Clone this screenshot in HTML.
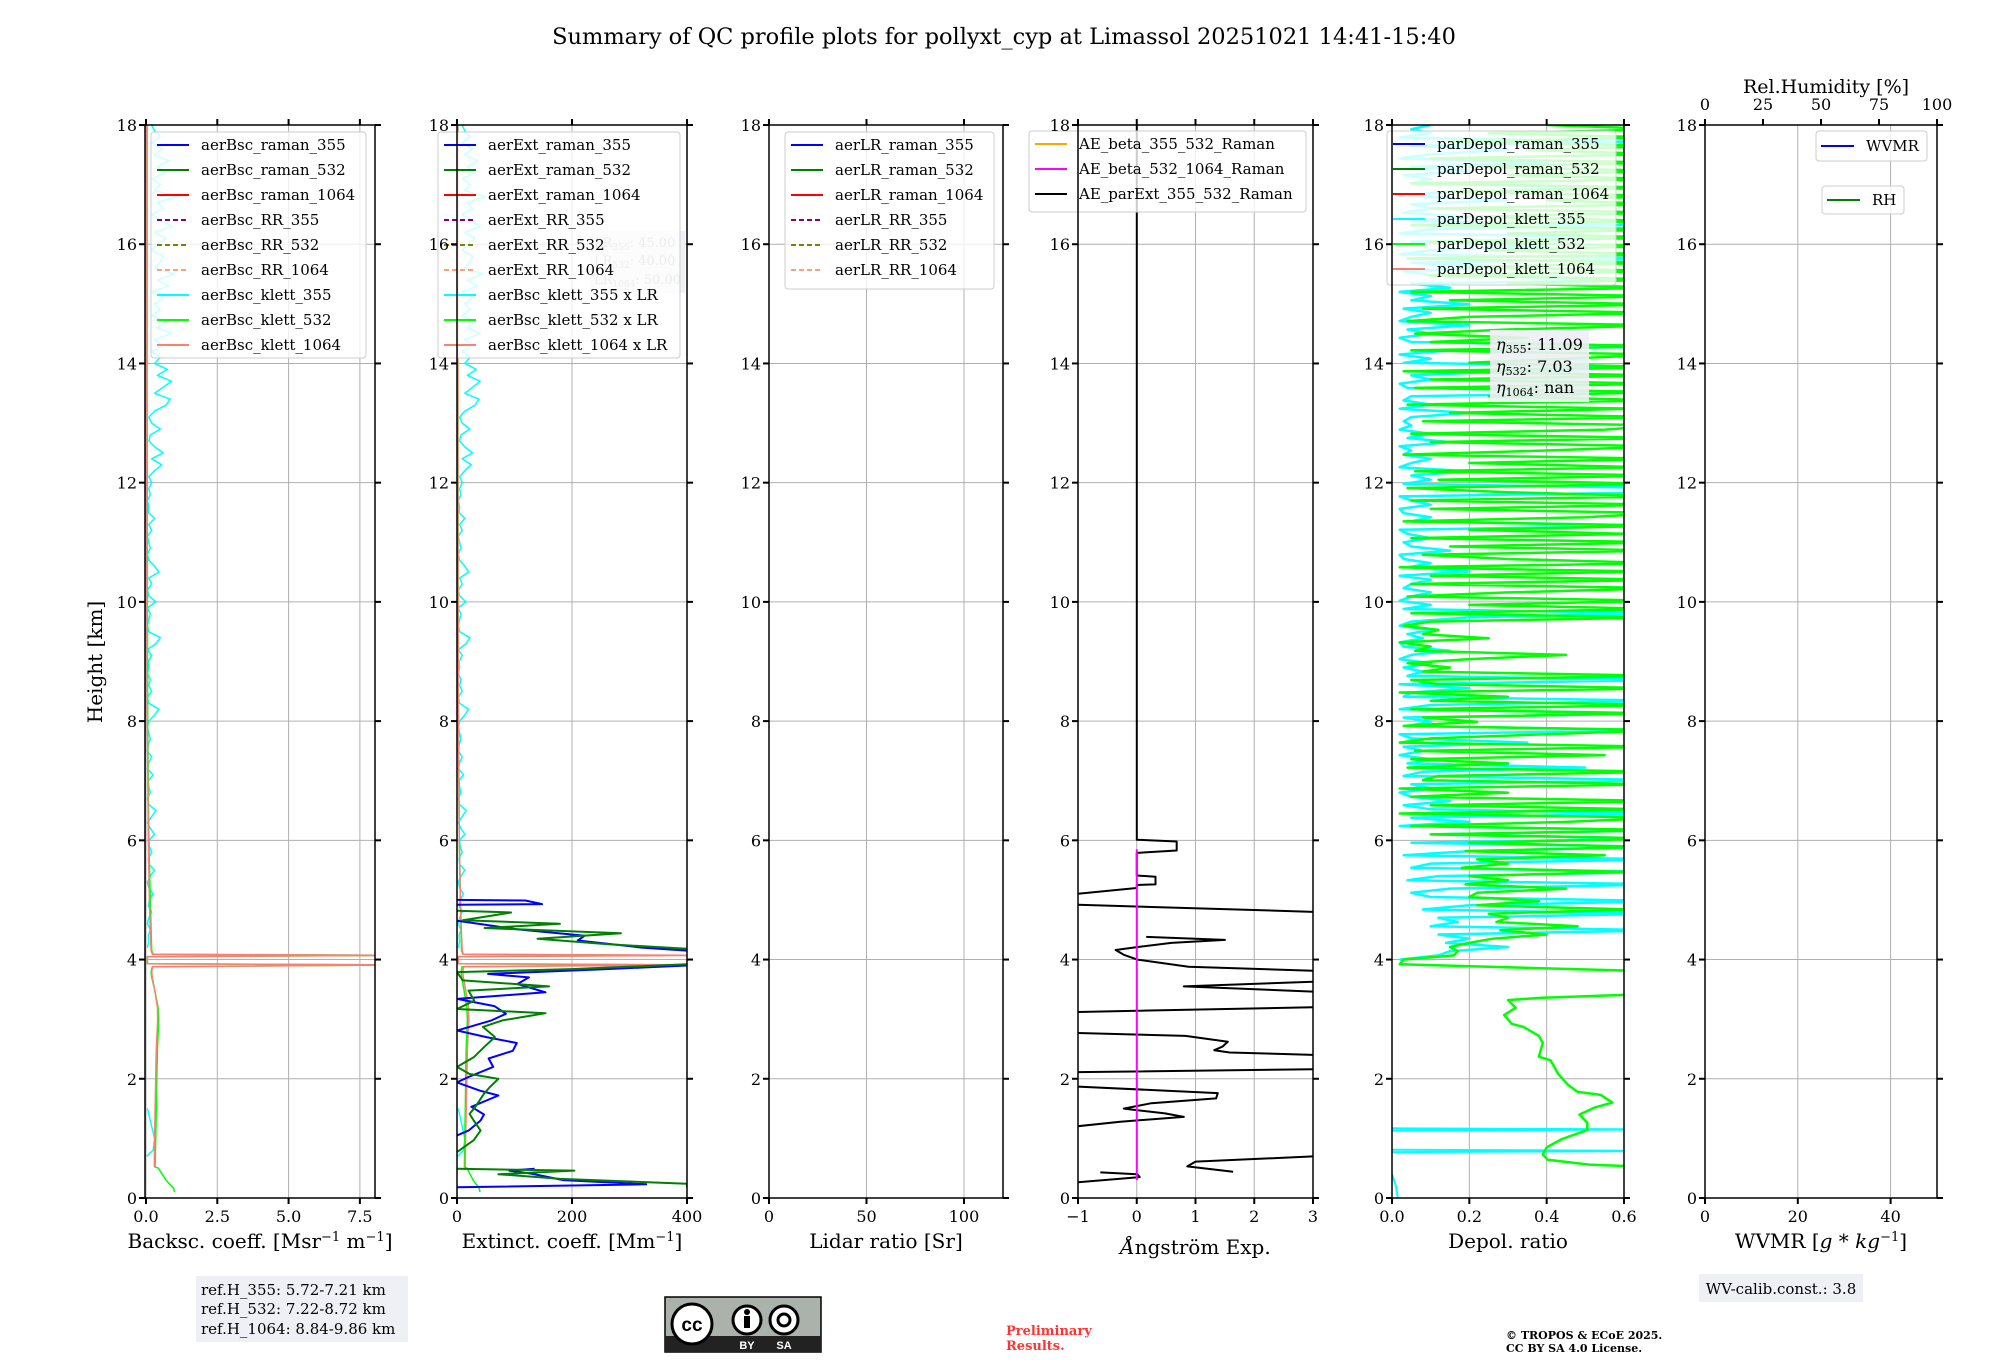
<!DOCTYPE html>
<html><head><meta charset="utf-8"><style>
html,body{margin:0;padding:0;background:#fff;}
svg{display:block;font-family:"DejaVu Serif","Liberation Serif",serif;}
</style></head><body>
<svg id="fig" width="2000" height="1360" viewBox="0 0 2000 1360" xmlns="http://www.w3.org/2000/svg">
<text x="1004" y="44" font-size="22.5" text-anchor="middle">Summary of QC profile plots for pollyxt_cyp at Limassol 20251021 14:41-15:40</text>
<text transform="translate(102,662) rotate(-90)" font-size="20" text-anchor="middle">Height [km]</text>
<g id="plots"></g>
<g>
<rect x="196" y="1276" width="212" height="66" fill="#eef0f5"/>
<text x="201" y="1295" font-size="15">ref.H_355: 5.72-7.21 km</text>
<text x="201" y="1314" font-size="15">ref.H_532: 7.22-8.72 km</text>
<text x="201" y="1334" font-size="15">ref.H_1064: 8.84-9.86 km</text>
</g>
<g>
<rect x="665" y="1297" width="156" height="55" fill="#aab2ab" stroke="#000" stroke-width="1.5"/>
<rect x="665" y="1336" width="156" height="16" fill="#222"/>
<circle cx="692" cy="1324" r="20" fill="#fff" stroke="#000" stroke-width="3"/>
<text x="692" y="1331" font-size="19" font-weight="bold" text-anchor="middle" font-family="Liberation Sans,sans-serif">cc</text>
<circle cx="747" cy="1320" r="14" fill="#fff" stroke="#000" stroke-width="3"/>
<rect x="744" y="1316" width="6" height="12" fill="#000"/><circle cx="747" cy="1312" r="3" fill="#000"/>
<circle cx="784" cy="1320" r="14" fill="#fff" stroke="#000" stroke-width="3"/>
<circle cx="784" cy="1320" r="6" fill="none" stroke="#000" stroke-width="3"/>
<text x="747" y="1349" font-size="11" fill="#fff" font-weight="bold" text-anchor="middle" font-family="Liberation Sans,sans-serif">BY</text>
<text x="784" y="1349" font-size="11" fill="#fff" font-weight="bold" text-anchor="middle" font-family="Liberation Sans,sans-serif">SA</text>
</g>
<text x="1006" y="1335" font-size="13" fill="#ff3333" font-weight="bold">Preliminary</text>
<text x="1006" y="1350" font-size="13" fill="#ff3333" font-weight="bold">Results.</text>
<text x="1506" y="1339" font-size="11" font-weight="bold">© TROPOS &amp; ECoE 2025.</text>
<text x="1506" y="1352" font-size="11" font-weight="bold">CC BY SA 4.0 License.</text>
<g>
<rect x="1699" y="1274" width="164" height="28" fill="#eef0f5"/>
<text x="1781" y="1294" font-size="15" text-anchor="middle">WV-calib.const.: 3.8</text>
</g>
</svg>
<script>
// ---------- data ----------
const hStartBsc = 4.2, hStepBsc = 0.1;
const bscKlett355 = [0.05,0.1,0.08,0.15,0.05,0.1,0.2,0.08,0.12,0.25,0.1,0.05,0.15,0.3,0.1,0.08,0.2,0.12,
0.1,0.3,0.15,0.05,0.2,0.35,0.1,0.05,0.15,0.1,0.08,0.25,0.05,0.1,0.2,0.05,0.08,0.15,0.1,0.05,
0.1,0.3,0.45,0.1,0.05,0.2,0.1,0.15,0.05,0.1,0.08,0.2,0.05,0.35,0.5,0.1,0.05,0.1,0.15,0.05,
0.35,0.1,0.05,0.2,0.1,0.45,0.3,0.1,0.05,0.15,0.1,0.05,0.2,0.1,0.3,0.08,0.1,0.05,0.15,0.1,
0.2,0.1,0.3,0.55,0.2,0.6,0.3,0.1,0.15,0.5,0.2,0.1,0.3,0.7,0.85,0.3,0.6,0.9,0.4,0.75,
0.3,0.5,0.2,0.6,0.3,0.9,0.4,0.7,0.2,0.5,0.3,0.6,0.2,0.8,0.4,1.0,0.3,0.5,0.6,0.2,
0.4,0.7,0.3,0.9,0.5,0.2,0.6,0.4,1.1,0.3,0.5,0.2,0.7,0.4,0.8,0.3,0.6,0.2,0.5,0.3,0.2];
const bscKlett355LowH = [0.7,0.8,1.0,1.2,1.4,1.5];
const bscKlett355LowV = [0.02,0.25,0.3,0.2,0.1,0.05];
const bsc532H = [0.1,0.16,0.3,0.45,0.5,0.52,1,1.5,2,2.5,3,3.2,3.5,3.7,3.8,3.88,3.91,3.93,4.05,4.07,4.09,4.15,4.5,5,6,8,10,14,18];
const bsc532V = [1.0,0.97,0.7,0.5,0.44,0.32,0.34,0.36,0.38,0.4,0.45,0.42,0.3,0.2,0.18,0.22,9,0.05,0.05,9,0.25,0.2,0.18,0.15,0.1,0.06,0.05,0.04,0.04];
const bsc1064H = [0.52,1,1.5,2,2.5,3,3.2,3.5,3.7,3.8,3.88,3.91,3.93,4.05,4.07,4.09,4.15,4.5,5,6,8,10,14,18];
const bsc1064V = [0.29,0.3,0.32,0.34,0.36,0.41,0.4,0.3,0.22,0.2,0.24,9,0.05,0.05,9,0.22,0.18,0.15,0.12,0.08,0.05,0.04,0.03,0.03];
const lr355 = 45, lr532 = 40, lr1064 = 50;
const ext355H = [0.18,0.23,0.30,0.41,0.46,0.49,null,1.05,1.13,1.3,1.4,1.53,1.72,1.8,1.94,2.03,2.2,2.34,2.47,2.6,2.7,2.81,2.98,3.09,3.22,3.34,3.45,3.59,3.7,3.76,3.84,3.9,null,4.15,4.2,4.32,4.4,4.51,4.65,null,4.92,4.93,4.99,5.0];
const ext355V = [0,329,185,129,91,135,null,0,20,41,47,25,72,40,0,20,63,55,97,104,50,0,60,85,65,0,154,105,125,54,260,400,null,400,322,210,222,104,0,null,0,148,119,0];
const ext532H = [0.18,0.24,0.32,0.40,0.46,0.49,null,0.77,0.97,1.13,1.3,1.41,1.53,1.75,1.86,2.0,2.08,2.2,2.36,2.53,2.7,2.87,2.98,3.1,3.17,3.31,3.48,3.55,3.65,3.79,3.84,3.92,null,4.18,4.26,4.35,4.44,4.53,4.6,4.66,4.79,4.82];
const ext532V = [400,400,180,72,204,0,null,0,29,41,29,22,32,47,57,72,22,0,29,47,66,45,79,154,0,30,20,160,10,0,198,400,null,400,260,140,285,48,179,10,94,0];
const aeH = [18,6.01,5.98,5.83,5.79,5.41,5.39,5.26,5.25,5.20,5.10,4.92,4.80,null,4.38,4.33,4.28,4.22,4.16,4.08,4.00,3.88,3.81,3.63,3.55,3.46,3.20,3.12,2.77,2.72,2.62,2.54,2.48,2.44,2.40,2.16,2.11,1.87,1.76,1.67,1.59,1.50,1.42,1.36,1.28,1.20,null,0.70,0.61,0.53,0.44,null,0.43,0.40,0.35,0.26];
const aeV = [0,0,0.68,0.68,0,0,0.32,0.32,0,0,-1.05,-1.05,3.05,null,0.16,1.50,0.59,0.10,-0.36,-0.22,0.01,0.88,3.05,3.05,0.80,3.05,3.05,-1.05,-1.05,0.83,1.55,1.46,1.32,1.58,3.05,3.05,-1.05,-1.05,1.38,1.35,0.25,-0.22,0.48,0.80,-0.28,-1.05,null,3.05,1.0,0.86,1.64,null,-0.62,0.01,0.05,-1.05];
const aeBeta5321064H = [0.3,5.85];
const aeBeta5321064V = [0,0];
const hStartDep = 4.0, hStepDep = 0.07;
const dep532 = [0.03,0.16,0.17,0.15,0.2,0.26,0.4,0.28,0.48,0.27,
0.3,0.25,0.62,0.22,0.38,0.2,0.22,0.45,0.19,0.3,
0.2,0.6,0.18,0.3,0.22,0.55,0.19,0.65,0.2,0.7,
0.1,0.7,0.05,0.45,0.7,0.02,0.65,0.1,0.7,0.05,
0.3,0.02,0.68,0.08,0.12,0.7,0.04,0.3,0.05,0.55,
0.06,0.7,0.02,0.1,0.4,0.7,0.03,0.22,0.08,0.65,
0.05,0.7,0.1,0.3,0.02,0.7,0.12,0.05,0.7,0.08,
0.15,0.04,0.2,0.45,0.06,0.1,0.02,0.25,0.08,0.12,
0.03,0.1,0.7,0.05,0.7,0.2,0.7,0.04,0.3,0.7,
0.05,0.7,0.1,0.65,0.02,0.7,0.3,0.08,0.7,0.15,
0.7,0.05,0.62,0.2,0.7,0.03,0.5,0.7,0.1,0.7,
0.05,0.7,0.3,0.04,0.7,0.12,0.7,0.06,0.65,0.2,
0.7,0.03,0.4,0.7,0.1,0.7,0.05,0.55,0.7,0.08,
0.7,0.15,0.62,0.04,0.7,0.25,0.7,0.06,0.7,0.1,
0.7,0.03,0.7,0.2,0.45,0.7,0.05,0.7,0.1,0.35,
0.06,0.3,0.7,0.04,0.2,0.7,0.08,0.7,0.15,0.7,
0.05,0.7,0.3,0.7,0.1,0.7,0.2,0.7,0.04,0.7,
0.25,0.7,0.1,0.7,0.3,0.7,0.05,0.7,0.2,0.7,
0.1,0.7,0.4,0.7,0.15,0.7,0.05,0.7,0.3,0.7,
0.2,0.7,0.1,0.7,0.35,0.7,0.15,0.7,0.25,0.7,0.4];
const dep355 = [0.02,0.12,0.15,0.3,0.14,0.2,0.12,0.7,0.1,0.17,
0.12,0.7,0.08,0.2,0.7,0.1,0.05,0.15,0.7,0.04,
0.12,0.7,0.05,0.1,0.7,0.03,0.2,0.7,0.05,0.7,
0.1,0.7,0.02,0.2,0.05,0.7,0.1,0.03,0.15,0.05,
0.02,0.1,0.05,0.7,0.03,0.08,0.5,0.04,0.1,0.02,
0.08,0.03,0.35,0.05,0.02,0.7,0.04,0.1,0.03,0.7,
0.02,0.1,0.7,0.03,0.05,0.2,0.02,0.7,0.04,0.08,
0.03,0.1,0.02,0.05,0.15,0.03,0.02,0.08,0.04,0.1,
0.02,0.05,0.2,0.7,0.03,0.1,0.02,0.05,0.1,0.03,
0.05,0.1,0.02,0.2,0.04,0.1,0.03,0.02,0.15,0.05,
0.03,0.1,0.04,0.02,0.7,0.05,0.1,0.03,0.02,0.1,
0.05,0.02,0.7,0.7,0.03,0.1,0.05,0.2,0.02,0.05,
0.1,0.03,0.05,0.02,0.15,0.04,0.1,0.02,0.05,0.03,
0.05,0.2,0.02,0.1,0.03,0.05,0.7,0.04,0.02,0.1,
0.05,0.3,0.7,0.03,0.1,0.02,0.15,0.7,0.05,0.02,
0.1,0.04,0.2,0.02,0.05,0.1,0.03,0.2,0.05,0.1,
0.02,0.15,0.05,0.7,0.1,0.03,0.3,0.05,0.7,0.02,
0.1,0.4,0.05,0.7,0.02,0.1,0.6,0.05,0.2,0.03,
0.1,0.05,0.3,0.02,0.15,0.6,0.05,0.1,0.03,0.2,
0.05,0.4,0.02,0.1,0.3,0.05,0.6,0.02,0.1,0.05,0.1];
const dep532LowH = [0.51,0.56,0.64,0.73,0.85,0.99,1.14,1.26,1.40,1.52,1.60,1.73,1.78,1.90,2.08,2.31,2.37,2.60,2.72,2.87,2.92,3.07,3.19,3.32,3.36,3.43,3.80,3.92];
const dep532LowV = [0.7,0.51,0.403,0.39,0.40,0.44,0.505,0.505,0.485,0.525,0.57,0.54,0.48,0.455,0.43,0.41,0.38,0.39,0.38,0.34,0.31,0.29,0.32,0.30,0.39,0.7,0.7,0.02];
const dep355LowH = [0.0,0.2,0.4,null,0.77,0.79,0.81,null,1.13,1.15,1.17];
const dep355LowV = [0.015,0.01,0.0,null,0.0,0.7,0.0,null,0.0,0.7,0.0];
const yTicks = [0,2,4,6,8,10,12,14,16,18];
const rhTicks = [0,25,50,75,100];

// ---------- layout ----------
const Y0 = 1198, Y18 = 125;
const yPix = h => Y0 + (Y18 - Y0) * h / 18;
const panels = [
 {id:'bsc', x0:145, x1:375, d0:-0.035, d1:8.03, ticks:[0,2.5,5,7.5], labels:['0.0','2.5','5.0','7.5'], xlabel:'Backsc. coeff. [Msr<tspan dy="-7" font-size="13">−1</tspan><tspan dy="7"> m</tspan><tspan dy="-7" font-size="13">−1</tspan><tspan dy="7">]</tspan>'},
 {id:'ext', x0:457, x1:687, d0:0, d1:400, ticks:[0,200,400], labels:['0','200','400'], xlabel:'Extinct. coeff. [Mm<tspan dy="-7" font-size="13">−1</tspan><tspan dy="7">]</tspan>'},
 {id:'lr', x0:769, x1:1003, d0:0, d1:120, ticks:[0,50,100], labels:['0','50','100'], xlabel:'Lidar ratio [Sr]'},
 {id:'ae', x0:1078, x1:1313, d0:-1, d1:3, ticks:[-1,0,1,2,3], labels:['−1','0','1','2','3'], xlabel:'<tspan font-style="italic">Å</tspan>ngström Exp.'},
 {id:'dep', x0:1392, x1:1624, d0:0, d1:0.6, ticks:[0,0.2,0.4,0.6], labels:['0.0','0.2','0.4','0.6'], xlabel:'Depol. ratio'},
 {id:'wv', x0:1705, x1:1937, d0:0, d1:50, ticks:[0,20,40], labels:['0','20','40'], xlabel:'WVMR [<tspan font-style="italic">g</tspan> * <tspan font-style="italic">kg</tspan><tspan dy="-7" font-size="13">−1</tspan><tspan dy="7">]</tspan>'}
];
const NS = 'http://www.w3.org/2000/svg';
const root = document.getElementById('plots');
function mk(tag, attrs, parent){const e=document.createElementNS(NS,tag);for(const k in attrs)e.setAttribute(k,attrs[k]);(parent||root).appendChild(e);return e;}
const xFn = p => v => p.x0 + (p.x1 - p.x0) * (v - p.d0) / (p.d1 - p.d0);
const defs = mk('defs',{});
panels.forEach(p=>{
 const cp = mk('clipPath',{id:'clip-'+p.id},defs);
 mk('rect',{x:p.x0,y:Y18,width:p.x1-p.x0,height:Y0-Y18},cp);
});
function seriesPath(p, hs, vs, color, w, name, extra){
 const X = xFn(p); let d=''; let pen=false;
 for(let i=0;i<hs.length;i++){
  if(hs[i]===null||vs[i]===null){pen=false;continue;}
  d += (pen?'L':'M') + X(vs[i]).toFixed(1) + ',' + yPix(hs[i]).toFixed(1);
  pen=true;
 }
 const el = mk('path',Object.assign({d:d,fill:'none',stroke:color,'stroke-width':w,'stroke-linejoin':'round','clip-path':'url(#clip-'+p.id+')'},extra||{}), p.g);
 
 
 return el;
}
function regular(arr, start, step, scale){
 return {h: arr.map((_,i)=>start+i*step), v: arr.map(v=>v*scale)};
}
function legend(p, x, y, w, rows, entries, fs){
 const g = mk('g',{},p.g);
 
 
 mk('rect',{x:x,y:y,width:w,height:rows,rx:3,fill:'#fff','fill-opacity':0.8,stroke:'#cccccc','stroke-width':1},g);
 entries.forEach((e,i)=>{
  const cy = y + 13 + i*25;
  mk('line',{x1:x+6,x2:x+38,y1:cy,y2:cy,stroke:e.c,'stroke-width':2,'stroke-dasharray':e.dash?'5,3':'none'},g);
  const t = mk('text',{x:x+50,y:cy+5,'font-size':fs||15},g);
  t.textContent = e.t;
  
  
 });
}
panels.forEach(p=>{
 const g = mk('g',{});
 
 
 p.g = g;
 const X = xFn(p);
 p.ticks.forEach(t=>mk('line',{x1:X(t),x2:X(t),y1:Y18,y2:Y0,stroke:'#b0b0b0','stroke-width':1},g));
 yTicks.forEach(t=>mk('line',{x1:p.x0,x2:p.x1,y1:yPix(t),y2:yPix(t),stroke:'#b0b0b0','stroke-width':1},g));
});
(function(){
 const p = panels[0];
 const c = regular(bscKlett355, hStartBsc, hStepBsc, 1);
 seriesPath(p, bscKlett355LowH, bscKlett355LowV, '#00ffff', 1.5, 'bsc-klett-355-low');
 seriesPath(p, c.h, c.v, '#00ffff', 1.5, 'bsc-klett-355');
 seriesPath(p, bsc532H, bsc532V, '#00ff00', 1.5, 'bsc-klett-532');
 seriesPath(p, bsc1064H, bsc1064V, '#fa8072', 1.5, 'bsc-klett-1064');
 legend(p, 151, 132, 215, 226, [
  {t:'aerBsc_raman_355',c:'#0000ff'},{t:'aerBsc_raman_532',c:'#008000'},{t:'aerBsc_raman_1064',c:'#ff0000'},
  {t:'aerBsc_RR_355',c:'#800080',dash:1},{t:'aerBsc_RR_532',c:'#808000',dash:1},{t:'aerBsc_RR_1064',c:'#ffa07a',dash:1},
  {t:'aerBsc_klett_355',c:'#00ffff'},{t:'aerBsc_klett_532',c:'#00ff00'},{t:'aerBsc_klett_1064',c:'#fa8072'}]);
})();
(function(){
 const p = panels[1];
 const c = regular(bscKlett355, hStartBsc, hStepBsc, lr355);
 seriesPath(p, bscKlett355LowH, bscKlett355LowV.map(v=>v*lr355), '#00ffff', 1.5, 'ext-klett-355-low');
 seriesPath(p, c.h, c.v, '#00ffff', 1.5, 'ext-klett-355');
 seriesPath(p, bsc532H, bsc532V.map(v=>v*lr532), '#00ff00', 1.5, 'ext-klett-532');
 seriesPath(p, bsc1064H, bsc1064V.map(v=>v*lr1064), '#fa8072', 1.5, 'ext-klett-1064');
 seriesPath(p, ext355H, ext355V, '#0000ff', 2, 'ext-raman-355');
 seriesPath(p, ext532H, ext532V, '#008000', 2, 'ext-raman-532');
 const b = mk('g',{},p.g);
 
 
 mk('rect',{x:590,y:231,width:95,height:62,fill:'#eef0f5'},b);
 [['LR','355',': 45.00',247],['LR','532',': 40.00',265],['LR','1064',': 50.00',284]].forEach(r=>{
  const t = mk('text',{x:594,y:r[3],'font-size':13,fill:'#999'},b);
  t.innerHTML = r[0]+'<tspan font-size="9" dy="3">'+r[1]+'</tspan><tspan dy="-3">'+r[2]+'</tspan>';
 });
 legend(p, 438, 132, 242, 226, [
  {t:'aerExt_raman_355',c:'#0000ff'},{t:'aerExt_raman_532',c:'#008000'},{t:'aerExt_raman_1064',c:'#ff0000'},
  {t:'aerExt_RR_355',c:'#800080',dash:1},{t:'aerExt_RR_532',c:'#808000',dash:1},{t:'aerExt_RR_1064',c:'#ffa07a',dash:1},
  {t:'aerBsc_klett_355 x LR',c:'#00ffff'},{t:'aerBsc_klett_532 x LR',c:'#00ff00'},{t:'aerBsc_klett_1064 x LR',c:'#fa8072'}]);
})();
(function(){
 const p = panels[2];
 legend(p, 785, 132, 209, 157, [
  {t:'aerLR_raman_355',c:'#0000ff'},{t:'aerLR_raman_532',c:'#008000'},{t:'aerLR_raman_1064',c:'#ff0000'},
  {t:'aerLR_RR_355',c:'#800080',dash:1},{t:'aerLR_RR_532',c:'#808000',dash:1},{t:'aerLR_RR_1064',c:'#ffa07a',dash:1}]);
})();
(function(){
 const p = panels[3];
 seriesPath(p, aeH, aeV, '#000000', 2, 'ae-parext-355-532');
 seriesPath(p, aeBeta5321064H, aeBeta5321064V, '#ff00ff', 2, 'ae-beta-532-1064');
 legend(p, 1029, 131, 277, 81, [
  {t:'AE_beta_355_532_Raman',c:'#ffa500'},{t:'AE_beta_532_1064_Raman',c:'#ff00ff'},{t:'AE_parExt_355_532_Raman',c:'#000000'}]);
})();
(function(){
 const p = panels[4];
 const c = regular(dep355, hStartDep, hStepDep, 1);
 const g = regular(dep532, hStartDep, hStepDep, 1);
 seriesPath(p, dep355LowH, dep355LowV, '#00ffff', 2, 'depol-klett-355-low');
 seriesPath(p, c.h, c.v, '#00ffff', 2.5, 'depol-klett-355');
 seriesPath(p, dep532LowH.concat(g.h), dep532LowV.concat(g.v), '#00ff00', 2.5, 'depol-klett-532');
 legend(p, 1387, 131, 229, 154, [
  {t:'parDepol_raman_355',c:'#0000ff'},{t:'parDepol_raman_532',c:'#008000'},{t:'parDepol_raman_1064',c:'#ff0000'},
  {t:'parDepol_klett_355',c:'#00ffff'},{t:'parDepol_klett_532',c:'#00ff00'},{t:'parDepol_klett_1064',c:'#fa8072'}]);
 const b = mk('g',{},p.g);
 
 
 mk('rect',{x:1490,y:330,width:99,height:72,fill:'#eef0f5','fill-opacity':0.9},b);
 [['355',': 11.09',350],['532',': 7.03',372],['1064',': nan',393]].forEach(r=>{
  const t = mk('text',{x:1496,y:r[2],'font-size':16},b);
  t.innerHTML = '<tspan font-style="italic">η</tspan><tspan font-size="11" dy="3">'+r[0]+'</tspan><tspan dy="-3">'+r[1]+'</tspan>';
 });
})();
(function(){
 const p = panels[5];
 const b1 = mk('g',{},p.g);
 
 
 mk('rect',{x:1816,y:131,width:111,height:30,rx:3,fill:'#fff','fill-opacity':0.8,stroke:'#cccccc'},b1);
 mk('line',{x1:1821,x2:1854,y1:146,y2:146,stroke:'#0000ff','stroke-width':2},b1);
 const t1 = mk('text',{x:1866,y:151,'font-size':15},b1); t1.textContent='WVMR';
 const b2 = mk('g',{},p.g);
 
 
 mk('rect',{x:1822,y:186,width:82,height:28,rx:3,fill:'#fff','fill-opacity':0.8,stroke:'#cccccc'},b2);
 mk('line',{x1:1827,x2:1860,y1:200,y2:200,stroke:'#008000','stroke-width':2},b2);
 const t2 = mk('text',{x:1872,y:205,'font-size':15},b2); t2.textContent='RH';
 const X = v => p.x0 + (p.x1-p.x0)*v/100;
 rhTicks.forEach(t=>{
  mk('line',{x1:X(t),x2:X(t),y1:Y18,y2:Y18-6,stroke:'#000','stroke-width':2},p.g);
  const tl = mk('text',{x:X(t),y:110,'font-size':16,'text-anchor':'middle'},p.g);
  tl.textContent = t;
  
  
 });
 const lab = mk('text',{x:1826,y:93,'font-size':19,'text-anchor':'middle'},p.g);
 lab.textContent = 'Rel.Humidity [%]';
 
 
})();
panels.forEach((p,pi)=>{
 const g = p.g; const X = xFn(p);
 mk('rect',{x:p.x0,y:Y18,width:p.x1-p.x0,height:Y0-Y18,fill:'none',stroke:'#000','stroke-width':1.5},g);
 yTicks.forEach(t=>{
  const y = yPix(t);
  mk('line',{x1:p.x0-6,x2:p.x0,y1:y,y2:y,stroke:'#000','stroke-width':2},g);
  mk('line',{x1:p.x1,x2:p.x1+6,y1:y,y2:y,stroke:'#000','stroke-width':2},g);
  const tl = mk('text',{x:p.x0-8,y:y+6,'font-size':16,'text-anchor':'end'},g);
  tl.textContent = t;
  
  
 });
 p.ticks.forEach((t,i)=>{
  const x = X(t);
  mk('line',{x1:x,x2:x,y1:Y0,y2:Y0+6,stroke:'#000','stroke-width':2},g);
  if(pi<5) mk('line',{x1:x,x2:x,y1:Y18,y2:Y18-6,stroke:'#000','stroke-width':2},g);
  const tl = mk('text',{x:x,y:Y0+24,'font-size':16,'text-anchor':'middle'},g);
  tl.textContent = p.labels[i];
  
  
 });
 const xl = mk('text',{x:(p.x0+p.x1)/2,y:pi===3?1254:1248,'font-size':20,'text-anchor':'middle'},g);
 xl.innerHTML = p.xlabel;
 
 
});
</script>
</body></html>
